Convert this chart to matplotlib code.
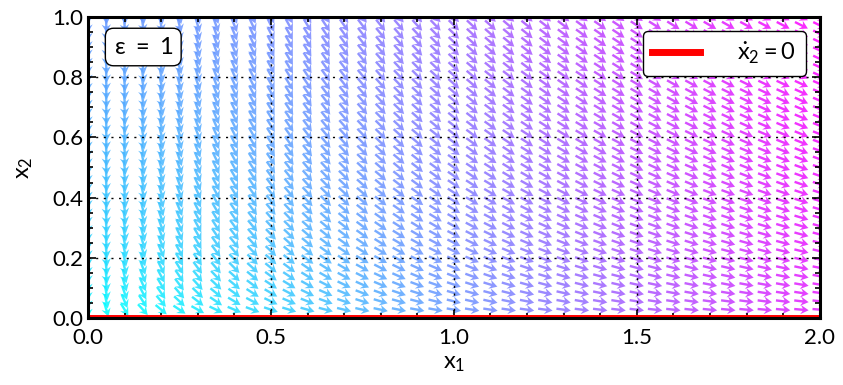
import numpy as np
import matplotlib.pyplot as plt
from matplotlib.ticker import MultipleLocator

plt.rcParams['font.family'] = 'Lato'
plt.rcParams['mathtext.fontset'] = 'custom'
plt.rcParams['mathtext.rm'] = 'Lato'
plt.rcParams['mathtext.it'] = 'Lato'

eps = 1.0

# sample points of the phase plane
x1_pts = np.arange(0, 41) * 0.05
x2_pts = np.arange(1, 37) / 36.0

# axis ticks
x_ticks = [0.0, 0.5, 1.0, 1.5, 2.0]
y_ticks = [0.0, 0.2, 0.4, 0.6, 0.8, 1.0]


def rhs(x1, x2):
    dx1 = x1
    dx2 = -np.sqrt(x2) / eps
    return dx1, dx2


X1, X2 = np.meshgrid(x1_pts, x2_pts)
U, V = rhs(X1, X2)
speed = np.hypot(U, V)
U_n = U / speed
V_n = V / speed

fig = plt.figure(figsize=(8.43, 3.85), dpi=100)
ax = fig.add_axes([0.1044, 0.174, 0.868, 0.782])

ax.quiver(X1, X2, U_n, V_n, speed, cmap='cool', alpha=0.85,
          units='inches', scale_units='inches', scale=1 / 0.145,
          width=0.024, headwidth=3.9, headlength=3.4, headaxislength=2.5,
          pivot='mid', zorder=2)

# nullcline of x2
ax.plot([0, 2], [0, 0], color='red', lw=5, zorder=3,
        label=r'$\dot{x}_2 = 0$')

ax.set_xlim(0, 2)
ax.set_ylim(0, 1)
ax.set_xticks(x_ticks)
ax.set_yticks(y_ticks)
ax.xaxis.set_minor_locator(MultipleLocator(0.1))
ax.yaxis.set_minor_locator(MultipleLocator(0.05))
ax.tick_params(which='both', direction='in', top=True, right=True,
               labelsize=16, width=1.2, color='k')
ax.tick_params(axis='x', which='major', pad=7)
ax.tick_params(which='major', length=6)
ax.tick_params(which='minor', length=3.5)
ax.grid(True, which='major', color='k', linestyle=(0, (1.5, 4)), lw=1.0)
ax.set_axisbelow(False)
for s in ax.spines.values():
    s.set_linewidth(2.2)
    s.set_zorder(5)

ax.set_xlabel(r'$x_1$', fontsize=17, labelpad=4)
ax.set_ylabel(r'$x_2$', fontsize=17, labelpad=12)

ax.text(0.035, 0.935, r'$\varepsilon\ =\ 1$', transform=ax.transAxes,
        fontsize=17, ha='left', va='top', zorder=6,
        bbox=dict(boxstyle='round,pad=0.35', fc='white', ec='k', lw=1.0))

leg = ax.legend(loc='upper right', fontsize=17, fancybox=True,
                framealpha=1, edgecolor='k', handlelength=2.0,
                handletextpad=1.6, borderaxespad=0.6)
leg.get_frame().set_linewidth(1.0)
leg.set_zorder(6)

fig.savefig('out.png', dpi=100)
